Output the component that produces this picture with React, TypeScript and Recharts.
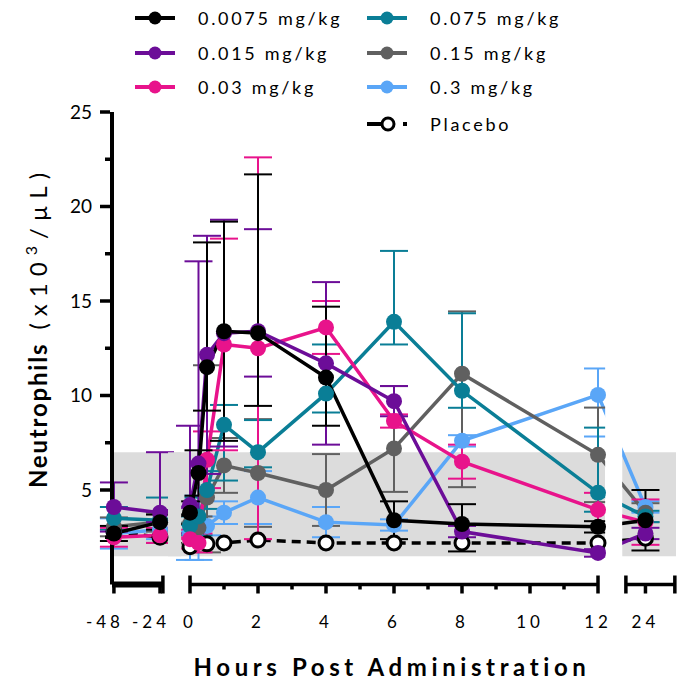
import React from "react";
import {
  ComposedChart,
  Line,
  XAxis,
  YAxis,
  ErrorBar,
  ReferenceArea,
  ReferenceLine,
  Legend,
  Label,
} from "recharts";

// time points (hours post administration)
const hours = [-48, -24, 0, 0.25, 0.5, 1, 2, 4, 6, 8, 12, 24];

// neutrophils (x10^3/uL), mean and error (number or [below, above])
const dose0075 = [2.7, 3.3, 3.8, 5.9, 11.5, 13.4, 13.3, 10.95, 3.4, 3.2, 3.05, 3.4];
const dose0075Err = [0.4, 0.4, 0.6, 1.2, [2.3, 6.6], 5.8, [3.85, 8.4], [2.55, 3.75], 1.0, [1.45, 1.05], 0.3, 1.6];

const dose015 = [4.1, 3.8, 4.2, 6.4, 12.15, 13.3, 13.4, 11.7, 9.7, 2.8, 1.67, 2.7];
const dose015Err = [1.3, [0.5, 3.2], [1.5, 4.2], [3.5, 10.7], 6.3, 6.0, [2.4, 5.4], 4.3, 0.8, 0.3, 0.2, 0.3];

const dose03 = [2.5, 2.6, 2.4, 2.2, 6.6, 12.7, 12.5, 13.6, 8.65, 6.5, 3.95, 3.3];
const dose03Err = [0.5, 0.4, 0.5, 0.5, 1.5, 5.6, 10.1, 1.4, 0.35, 0.9, 0.9, 1.2];

const dose075 = [3.5, 3.4, 3.1, 3.6, 5.0, 8.45, 7.0, 10.1, 13.9, 10.25, 4.85, 3.6];
const dose075Err = [0.6, 1.2, 0.5, 1.0, 1.0, [2.95, 1.05], [0.8, 1.7], [1.0, 2.6], [1.2, 3.75], [0.9, 4.1], [1.0, 3.45], 0.3];

const dose15 = [3.05, 3.3, 3.2, 3.0, 4.6, 6.3, 5.9, 5.0, 7.2, 11.15, 6.86, 3.8];
const dose15Err = [0.5, 0.5, 0.5, 0.6, [2.9, 7.0], 1.45, 2.85, 1.9, [2.3, 3.3], [6.0, 3.3], 2.5, 0.5];

const dose3 = [2.7, 2.9, 2.7, 3.0, 3.1, 3.8, 4.6, 3.3, 3.15, 7.6, 10.03, 4.1];
const dose3Err = [0.8, 0.5, 1.4, 1.7, 0.5, 0.6, 1.4, 0.8, 0.3, 0.3, [2.2, 1.4], 0.3];

const placebo = [2.8, 2.5, 2.0, null, 2.15, 2.2, 2.35, 2.2, 2.2, 2.2, 2.2, 2.45];

const majorTicks = [-48, -24, 0, 2, 4, 6, 8, 10, 12, 24];
const minorTicks = [1, 3, 5, 7, 9, 11];
const yTicks = [2.5, 5, 7.5, 10, 12.5, 15, 17.5, 20, 22.5, 25];
const normalRange = [1.5, 7];

const FONT = "Lato, 'Open Sans', sans-serif";
const BAND = "#dcdcdc";

// broken x axis: each piece of the hour axis maps onto a stretch of one continuous axis
const segments = [
  { h0: -49, h1: -22.5, u0: -2.294, u1: -0.797 },
  { h0: 0, h1: 12, u0: 0, u1: 12 },
  { h0: 22, h1: 27, u0: 12.82, u1: 14.26 },
];
const uMin = -2.294;
const uMax = 14.294;

const toAxis = (h: number) => {
  const s = segments.find((seg) => h >= seg.h0 && h <= seg.h1)!;
  return s.u0 + ((h - s.h0) * (s.u1 - s.u0)) / (s.h1 - s.h0);
};

const leftBreak = [segments[0].u1 + 0.15, segments[1].u0 - 0.26];
const rightBreak = [segments[1].u1 + 0.21, segments[2].u0 - 0.11];

const series = [
  { key: "d3", name: "0.3 mg/kg", color: "#5aa6f7", values: dose3, errors: dose3Err },
  { key: "d15", name: "0.15 mg/kg", color: "#606060", values: dose15, errors: dose15Err },
  { key: "d075", name: "0.075 mg/kg", color: "#0a7e96", values: dose075, errors: dose075Err },
  { key: "d03", name: "0.03 mg/kg", color: "#e8138b", values: dose03, errors: dose03Err },
  { key: "d015", name: "0.015 mg/kg", color: "#6c0d98", values: dose015, errors: dose015Err },
  { key: "d0075", name: "0.0075 mg/kg", color: "#000000", values: dose0075, errors: dose0075Err },
];

const legendColumns = [
  ["d0075", "d015", "d03"],
  ["d075", "d15", "d3", "placebo"],
];

const chartData = hours.map((h, i) => {
  const row: any = { u: toAxis(h), hours: h, placebo: placebo[i] };
  series.forEach((s) => {
    row[s.key] = s.values[i];
    row[s.key + "Err"] = s.errors[i];
  });
  return row;
});

type TickInfo = { u: number; label?: string; kind: "major" | "minor" | "end" };
const tickInfo: TickInfo[] = [
  ...majorTicks.map((h) => ({ u: toAxis(h), label: String(h), kind: "major" as const })),
  ...minorTicks.map((h) => ({ u: toAxis(h), kind: "minor" as const })),
  { u: segments[0].u1, kind: "end" as const },
  { u: segments[2].u0, kind: "end" as const },
  { u: segments[2].u1, kind: "end" as const },
];
const segmentEnds = [segments[0].u1, segments[1].u0, segments[1].u1, segments[2].u0, segments[2].u1];

const XTick = (props: any) => {
  const { x, y, payload } = props;
  const info = tickInfo.find((t) => Math.abs(t.u - payload.value) < 1e-6);
  if (!info) return null;
  const isEnd = segmentEnds.some((e) => Math.abs(e - info.u) < 1e-6);
  const down = info.kind === "minor" ? 5 : 9;
  const negative = info.label && info.label.startsWith("-");
  return (
    <g>
      <line x1={x} x2={x} y1={isEnd ? y - 9 : y} y2={y + down} stroke="#000" strokeWidth={3.5} />
      {info.label && (
        <text
          x={x + (negative ? -9 : 0)}
          y={y + 43}
          textAnchor="middle"
          fontFamily={FONT}
          fontSize={17}
          letterSpacing={4}
          fill="#000"
        >
          {info.label}
        </text>
      )}
    </g>
  );
};

const YTick = (props: any) => {
  const { x, y, payload } = props;
  const v = payload.value;
  const major = v % 5 === 0;
  return (
    <g>
      <line x1={x - 2 - (major ? 10 : 5)} x2={x - 2} y1={y} y2={y} stroke="#000" strokeWidth={3.5} />
      {major && (
        <text x={x - 20} y={y} dy="0.36em" textAnchor="end" fontFamily={FONT} fontSize={19} fill="#000">
          {v}
        </text>
      )}
    </g>
  );
};

const XTitle = (props: any) => {
  const vb = props.viewBox;
  return (
    <text
      x={vb.x + vb.width / 2 - 2}
      y={vb.y + 91}
      textAnchor="middle"
      fontFamily={FONT}
      fontSize={24}
      fontWeight="bold"
      letterSpacing={4.6}
      fill="#000"
    >
      Hours Post Administration
    </text>
  );
};

const YTitle = () => {
  const cx = 47;
  const cy = 327;
  return (
    <text
      x={cx}
      y={cy}
      transform={`rotate(-90 ${cx} ${cy})`}
      textAnchor="middle"
      fontFamily={FONT}
      fontSize={24}
      fill="#000"
    >
      <tspan fontWeight="bold" letterSpacing={1.8}>Neutrophils</tspan>
      <tspan letterSpacing={7}> (x10</tspan>
      <tspan fontSize={16} dy={-10} letterSpacing={7}>3</tspan>
      <tspan dy={10} letterSpacing={7}>/µL)</tspan>
    </text>
  );
};

const renderLegend = () => {
  const colX = [135, 367];
  const rowY = [18, 53, 87, 124];
  return (
    <svg width={680} height={140} style={{ display: "block" }}>
      {legendColumns.map((col, ci) =>
        col.map((key, ri) => {
          const x = colX[ci];
          const y = rowY[ri];
          if (key === "placebo") {
            return (
              <g key={key}>
                <line x1={x} x2={x + 14} y1={y} y2={y} stroke="#000" strokeWidth={4} />
                <circle cx={x + 21} cy={y} r={6} fill="#fff" stroke="#000" strokeWidth={3} />
                <line x1={x + 36} x2={x + 40} y1={y} y2={y} stroke="#000" strokeWidth={4} />
                <text x={x + 63} y={y + 6.5} fontFamily={FONT} fontSize={18} letterSpacing={2.7} fill="#000">
                  Placebo
                </text>
              </g>
            );
          }
          const s = series.find((d) => d.key === key)!;
          return (
            <g key={key}>
              <line x1={x} x2={x + 40} y1={y} y2={y} stroke={s.color} strokeWidth={4} />
              <circle cx={x + 20} cy={y} r={6.5} fill={s.color} />
              <text x={x + 63} y={y + 6.5} fontFamily={FONT} fontSize={18} letterSpacing={2.7} fill="#000">
                {s.name}
              </text>
            </g>
          );
        })
      )}
    </svg>
  );
};

export default function App() {
  return (
    <div style={{ position: "absolute", left: 0, top: 0, width: 680, height: 683, background: "#fff" }}>
      <ComposedChart
        width={680}
        height={683}
        data={chartData}
        margin={{ top: 112, right: 4, bottom: 0, left: 0 }}
      >
        <ReferenceArea x1={uMin} x2={rightBreak[0]} y1={normalRange[0]} y2={normalRange[1]} fill={BAND} fillOpacity={1} stroke="none" ifOverflow="visible" />
        <ReferenceArea x1={rightBreak[1]} x2={uMax} y1={normalRange[0]} y2={normalRange[1]} fill={BAND} fillOpacity={1} stroke="none" ifOverflow="visible" />
        <XAxis
          dataKey="u"
          type="number"
          domain={[uMin, uMax]}
          ticks={tickInfo.map((t) => t.u)}
          interval={0}
          axisLine={false}
          tickLine={false}
          tickSize={0}
          tickMargin={0}
          height={98.5}
          tick={(p: any) => <XTick {...p} />}
        >
          <Label content={(p: any) => <XTitle {...p} />} />
        </XAxis>
        <YAxis
          type="number"
          domain={[0, 25]}
          ticks={yTicks}
          interval={0}
          width={112}
          axisLine={{ stroke: "#000", strokeWidth: 4 }}
          tickLine={false}
          tickSize={0}
          tickMargin={0}
          tick={(p: any) => <YTick {...p} />}
        >
          <Label content={() => <YTitle />} />
        </YAxis>
        <Legend
          layout="horizontal"
          verticalAlign="middle"
          align="center"
          wrapperStyle={{ position: "absolute", top: 0, left: 0, width: 680, height: 140 }}
          content={renderLegend}
        />
        <Line
          dataKey="placebo"
          name="Placebo"
          type="linear"
          stroke="#000"
          strokeWidth={3.5}
          strokeDasharray="9 6"
          connectNulls
          dot={{ r: 7, fill: "#fff", stroke: "#000", strokeWidth: 3, strokeDasharray: "" }}
          activeDot={false}
          isAnimationActive={false}
        />
        {series.map((s) => (
          <Line
            key={s.key}
            dataKey={s.key}
            name={s.name}
            type="linear"
            stroke={s.color}
            strokeWidth={3.5}
            dot={{ r: 8, fill: s.color, stroke: s.color, strokeWidth: 0 }}
            activeDot={false}
            isAnimationActive={false}
          >
            <ErrorBar dataKey={s.key + "Err"} direction="y" width={14} strokeWidth={2} stroke={s.color} isAnimationActive={false} />
          </Line>
        ))}
        <ReferenceArea x1={leftBreak[0]} x2={leftBreak[1]} y1={normalRange[0]} y2={normalRange[1]} fill={BAND} fillOpacity={1} stroke="none" ifOverflow="visible" zIndex={450} />
        <ReferenceArea x1={rightBreak[0]} x2={rightBreak[1]} y1={0} y2={25} fill="#fff" fillOpacity={1} stroke="none" ifOverflow="visible" zIndex={450} />
        {segments.map((s, i) => (
          <ReferenceLine
            key={i}
            segment={[{ x: s.u0, y: 0 }, { x: s.u1, y: 0 }]}
            stroke="#000"
            strokeWidth={i === 0 ? 6 : 3.5}
            ifOverflow="visible"
            zIndex={600}
          />
        ))}
      </ComposedChart>
    </div>
  );
}
